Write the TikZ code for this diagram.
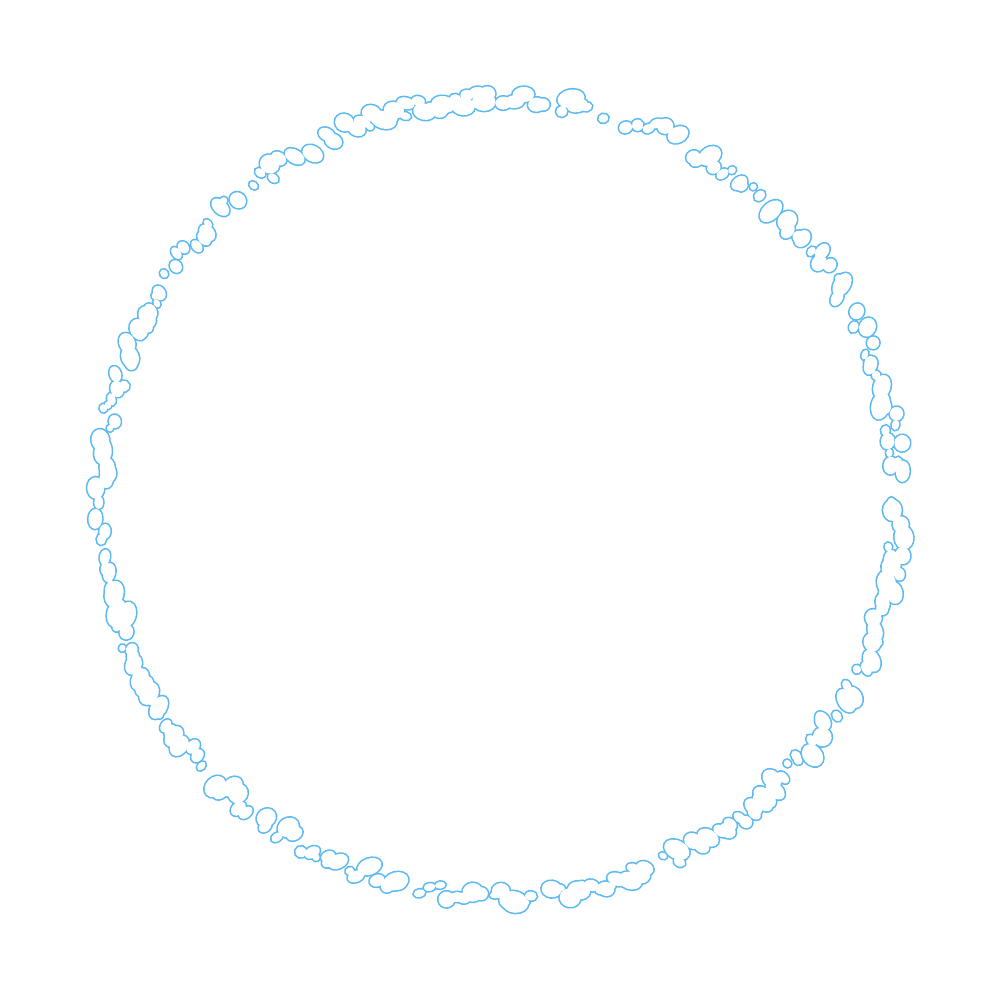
\documentclass[tikz,border=0pt]{standalone}
\definecolor{skyline}{HTML}{5CB9F2}
\begin{document}
\begin{tikzpicture}[
    x = 0.1mm, y = -0.1mm,
    % outer half of the stroke stays visible once the fill covers the rest
    blobline/.style = {draw = skyline, line width = 0.9pt},
    blobfill/.style = {fill = white},
    ]

    \useasboundingbox (0, 0) rectangle (998, 998);
    \coordinate (centre) at (500, 498);

    \def\ring#1{
        \pgfmathsetseed{4711}
        \foreach \i in {1, 2, ..., 340}{
            \pgfmathsetmacro\ang{\i*1.06 + rnd*0.9}
            \pgfmathsetmacro\rr{399 + (rnd - 0.5)*16}
            \pgfmathsetmacro\br{3 + rnd*6.5}
            \pgfmathsetmacro\stretch{1 + rnd*0.6}
            \pgfmathtruncatemacro\keep{rnd < 0.8 ? 1 : 0}
            \ifnum\keep=1
                \path[#1] ([shift={(\ang:\rr)}] centre) circle [x radius = \br*\stretch*0.1mm,
                    y radius = \br*0.1mm, rotate = \ang + 90];
            \fi
        }
    }

    % blob outlines
    \ring{blobline}
    % clear the insides so only the union's border is left
    \ring{blobfill}

\end{tikzpicture}
\end{document}
